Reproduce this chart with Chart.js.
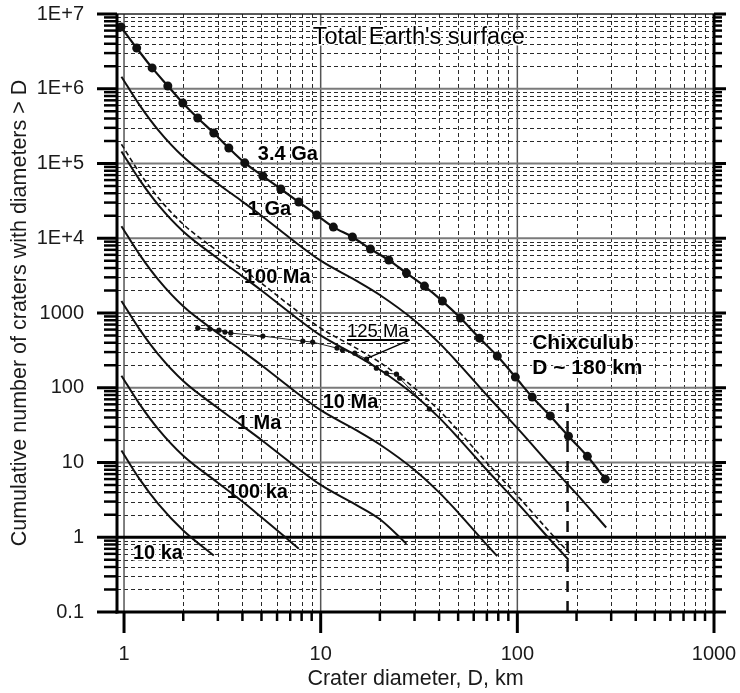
<!DOCTYPE html>
<html><head><meta charset="utf-8">
<script src="https://cdn.jsdelivr.net/npm/chart.js@4.4.0/dist/chart.umd.min.js"></script>
<style>html,body{margin:0;padding:0;background:#fff;}#wrap{width:740px;height:693px;}</style>
</head><body><div id="wrap"><canvas id="c" width="740" height="693"></canvas></div>
<script>
// ---- axis ticks ----
const xTicks = [1, 10, 100, 1000];
const xTickLabels = ['1', '10', '100', '1000'];
const yTicks = [0.1, 1, 10, 100, 1000, 1e4, 1e5, 1e6, 1e7];
const yTickLabels = ['0.1', '1', '10', '100', '1000', '1E+4', '1E+5', '1E+6', '1E+7'];

// ---- 3.4 Ga observed (dots) ----
const d34Ga = [0.965,1.16,1.39,1.67,1.99,2.37,2.86,3.41,4.11,5.08,6.27,7.74,9.55,11.6,14.5,17.9,22.2,27.3,33.7,41.6,51.4,64.2,79.1,97.7,119,147,182,227,280];
const n34Ga = [6.7e6,3.5e6,1.9e6,1.09e6,6.45e5,4.06e5,2.56e5,1.61e5,1.02e5,6.8e4,4.56e4,3.05e4,2.04e4,1.41e4,1.04e4,7170,5110,3420,2290,1443,855,461,265,139,75,42,22.5,12.1,6.0];

// ---- isochrons ----
const d1Ga   = [0.97,1.2,1.5,2,3,4,5,7,10,15,20,30,40,50,70,100,150,200,283];
const n1Ga   = [1.45e6,6.03e5,2.75e5,1.23e5,5.37e4,3.09e4,2.0e4,1.0e4,5010,2750,1740,794,398,214,79.4,28.8,8.71,3.8,1.35];
const d125Ma = [0.97,1.2,1.5,2,3,4,5,7,10,15,20,30,40,50,70,100,150,184];
const n125Ma = [1.81e5,7.5e4,3.44e4,1.54e4,6710,3860,2500,1250,626,344,218,99.2,49.8,26.7,9.9,3.6,1.09,0.61];
const d100Ma = [0.97,1.2,1.5,2,3,4,5,7,10,15,20,30,40,50,70,100,150,182];
const n100Ma = [1.45e5,6.03e4,2.75e4,1.23e4,5370,3090,2000,1000,501,275,174,79.4,39.8,21.4,7.94,2.88,0.871,0.5];
const d10Ma  = [0.97,1.2,1.5,2,3,4,5,7,10,15,20,30,40,50,70,79];
const n10Ma  = [1.45e4,6030,2750,1230,537,309,200,100,50.1,27.5,17.4,7.94,3.98,2.14,0.79,0.56];
const d1Ma   = [0.97,1.2,1.5,2,3,4,5,7,10,15,20,27.3];
const n1Ma   = [1450,603,275,123,53.7,30.9,20,10,5.01,2.75,1.74,0.82];
const d100ka = [0.97,1.2,1.5,2,3,4,5,7,7.74];
const n100ka = [145,60.3,27.5,12.3,5.37,3.0,1.85,0.88,0.7];
const d10ka  = [0.97,1.2,1.5,2,2.86];
const n10ka  = [14.5,6.0,2.75,1.23,0.57];

// ---- 125 Ma observed (small dots) ----
const d125obs = [2.37,2.73,3.04,3.26,3.49,5.08,8.11,9.1,12.1,12.9,14.9,17.1,19.2,21.6,24.3,25.2,35.7];
const n125obs = [628,609,590,555,538,491,421,408,339,319,290,241,183,157,152,134,52];

// ---- Chicxulub marker ----
const dChix = [180, 180];
const nChix = [0.1, 62];

const FONT = '"Liberation Sans", Arial, Helvetica, sans-serif';
const pts = (xs, ys) => xs.map((x, i) => ({x: x, y: ys[i]}));

const labels = [
  {t: "Total Earth's surface", x: 9.1, y: 4.8e6, w: 'normal', s: 23.5},
  {t: '3.4 Ga', x: 4.79, y: 1.3e5, w: 'bold', s: 20},
  {t: '1 Ga', x: 4.26, y: 2.39e4, w: 'bold', s: 20},
  {t: '100 Ma', x: 4.07, y: 3020, w: 'bold', s: 20},
  {t: '10 Ma', x: 10.24, y: 64, w: 'bold', s: 20},
  {t: '1 Ma', x: 3.75, y: 33.6, w: 'bold', s: 20},
  {t: '100 ka', x: 3.33, y: 4.0, w: 'bold', s: 20},
  {t: '10 ka', x: 1.11, y: 0.61, w: 'bold', s: 20},
  {t: 'Chixculub', x: 119, y: 395, w: 'bold', s: 21},
  {t: 'D ~ 180 km', x: 119, y: 183, w: 'bold', s: 21},
  {t: '125 Ma', x: 13.6, y: 555, w: 'normal', s: 18.5}
];

const gridPlugin = {
  id: 'gridPlugin',
  beforeDatasetsDraw(chart) {
    const ctx = chart.ctx, xs = chart.scales.x, ys = chart.scales.y;
    const {left, right, top, bottom} = chart.chartArea;
    const line = (x1, y1, x2, y2) => { ctx.beginPath(); ctx.moveTo(x1, y1); ctx.lineTo(x2, y2); ctx.stroke(); };
    ctx.save();
    ctx.setLineDash([4, 3]); ctx.lineWidth = 1; ctx.strokeStyle = '#2a2a2a';
    for (let e = -1; e < 3; e++) for (let k = 2; k <= 9; k++) {
      const v = k * Math.pow(10, e); if (v < xs.min || v > xs.max) continue;
      const p = Math.round(xs.getPixelForValue(v)) + 0.5; line(p, top, p, bottom);
    }
    for (let e = -1; e < 7; e++) for (let k = 2; k <= 9; k++) {
      const v = k * Math.pow(10, e); if (v < ys.min || v > ys.max) continue;
      const p = Math.round(ys.getPixelForValue(v)) + 0.5; line(left, p, right, p);
    }
    ctx.setLineDash([]);
    for (const v of [1, 10, 100]) {
      ctx.strokeStyle = '#555'; ctx.lineWidth = 1.5;
      const p = xs.getPixelForValue(v); line(p, top, p, bottom);
    }
    for (const v of yTicks) {
      if (v <= ys.min) continue;
      const p = ys.getPixelForValue(v);
      if (v === 1) { ctx.strokeStyle = '#000'; ctx.lineWidth = 3; }
      else if (v >= ys.max) { ctx.strokeStyle = '#222'; ctx.lineWidth = 1.5; }
      else { ctx.strokeStyle = '#7a7a7a'; ctx.lineWidth = 2; }
      line(left, p, right, p);
    }
    ctx.textBaseline = 'middle'; ctx.textAlign = 'left';
    ctx.lineJoin = 'round';
    for (const L of labels) {
      ctx.font = L.w + ' ' + L.s + 'px ' + FONT;
      const px = xs.getPixelForValue(L.x), py = ys.getPixelForValue(L.y);
      ctx.strokeStyle = '#fff'; ctx.lineWidth = 3; ctx.strokeText(L.t, px, py);
      ctx.fillStyle = '#000'; ctx.fillText(L.t, px, py);
    }
    ctx.restore();
  },
  afterDatasetsDraw(chart) {
    const ctx = chart.ctx, xs = chart.scales.x, ys = chart.scales.y;
    const {left, right, top, bottom} = chart.chartArea;
    const line = (x1, y1, x2, y2) => { ctx.beginPath(); ctx.moveTo(x1, y1); ctx.lineTo(x2, y2); ctx.stroke(); };
    ctx.save();
    ctx.strokeStyle = '#000'; ctx.lineWidth = 2;
    const ux1 = xs.getPixelForValue(13.6), ux2 = xs.getPixelForValue(28.3), uy = ys.getPixelForValue(434);
    line(ux1, uy, ux2, uy);
    ctx.lineWidth = 1.5;
    line(ux2, uy, xs.getPixelForValue(17.3), ys.getPixelForValue(249));
    ctx.strokeStyle = '#000'; ctx.lineWidth = 3;
    line(left, top, left, bottom + 1.5);
    line(right, top, right, bottom + 1.5);
    line(left - 1.5, bottom, right + 1.5, bottom);
    for (let e = -1; e < 7; e++) for (let k = 1; k <= 9; k++) {
      const v = k * Math.pow(10, e); if (v < ys.min || v > ys.max) continue;
      const p = ys.getPixelForValue(v);
      if (k === 1) { ctx.lineWidth = 3; line(left - 20, p, left, p); line(right, p, right + 12, p); }
      else { ctx.lineWidth = 2.5; line(left - 13, p, left, p); line(right, p, right + 8, p); }
    }
    const topP = ys.getPixelForValue(1e7);
    ctx.lineWidth = 3; line(left - 20, topP, left, topP); line(right, topP, right + 12, topP);
    for (let e = 0; e < 3; e++) for (let k = 1; k <= 9; k++) {
      const v = k * Math.pow(10, e);
      const p = xs.getPixelForValue(v);
      if (k === 1) { ctx.lineWidth = 3; line(p, bottom, p, bottom + 21); }
      else { ctx.lineWidth = 2.5; line(p, bottom, p, bottom + 9); }
    }
    ctx.lineWidth = 3; const p1000 = xs.getPixelForValue(1000); line(p1000, bottom, p1000, bottom + 21);
    ctx.restore();
  }
};

const iso = (xs, ys, dash, w) => ({
  data: pts(xs, ys), showLine: true, borderColor: '#111', backgroundColor: '#111',
  borderWidth: w || 2, pointRadius: 0, cubicInterpolationMode: 'monotone', borderDash: dash || []
});

new Chart(document.getElementById('c'), {
  type: 'scatter',
  data: {
    datasets: [
      iso(d10ka, n10ka), iso(d100ka, n100ka), iso(d1Ma, n1Ma), iso(d10Ma, n10Ma),
      iso(d100Ma, n100Ma), iso(d125Ma, n125Ma, [5, 3], 1.6), iso(d1Ga, n1Ga),
      {data: pts(d34Ga, n34Ga), showLine: true, borderColor: '#111', backgroundColor: '#111',
       borderWidth: 2.2, pointRadius: 4.5, pointBorderWidth: 0, cubicInterpolationMode: 'monotone'},
      {data: pts(d125obs, n125obs), showLine: true, borderColor: '#222', backgroundColor: '#111',
       borderWidth: 1, pointRadius: 2.6, pointBorderWidth: 0},
      {data: pts(dChix, nChix), showLine: true, borderColor: '#111', borderWidth: 2.5,
       borderDash: [11, 9], pointRadius: 0}
    ]
  },
  options: {
    responsive: false, animation: false, devicePixelRatio: 1,
    layout: {padding: {top: 14, right: 26, left: 0, bottom: 0}},
    plugins: {legend: {display: false}, tooltip: {enabled: false}},
    scales: {
      x: {
        type: 'logarithmic', position: 'bottom', min: 0.921, max: 1000,
        grid: {display: false, drawTicks: false}, border: {display: false},
        afterBuildTicks: ax => { ax.ticks = xTicks.map(v => ({value: v})); },
        afterFit: ax => { ax.height = 81; ax.paddingLeft = 0; ax.paddingRight = 0; ax.paddingTop = 0; ax.paddingBottom = 0; },
        ticks: {
          autoSkip: false, maxRotation: 0, minRotation: 0, padding: 30, color: '#1a1a1a',
          font: {family: FONT, size: 20},
          callback: v => { const i = xTicks.indexOf(v); return i >= 0 ? xTickLabels[i] : ''; }
        },
        title: {display: true, text: 'Crater diameter, D, km', color: '#1a1a1a',
                font: {family: FONT, size: 21.5}, padding: {top: 0, bottom: 1}}
      },
      y: {
        type: 'logarithmic', position: 'left', min: 0.1, max: 1e7,
        grid: {display: false, drawTicks: false}, border: {display: false},
        afterBuildTicks: ax => { ax.ticks = yTicks.map(v => ({value: v})); },
        afterFit: ax => { ax.width = 117; ax.paddingLeft = 0; ax.paddingRight = 0; ax.paddingTop = 0; ax.paddingBottom = 0; },
        ticks: {
          autoSkip: false, padding: 33, color: '#1a1a1a',
          font: {family: FONT, size: 20},
          callback: v => { const i = yTicks.indexOf(v); return i >= 0 ? yTickLabels[i] : ''; }
        },
        title: {display: true, text: 'Cumulative number of craters with diameters > D', color: '#1a1a1a',
                font: {family: FONT, size: 21.5}, padding: {top: 7, bottom: 0}}
      }
    }
  },
  plugins: [gridPlugin]
});
</script></body></html>
